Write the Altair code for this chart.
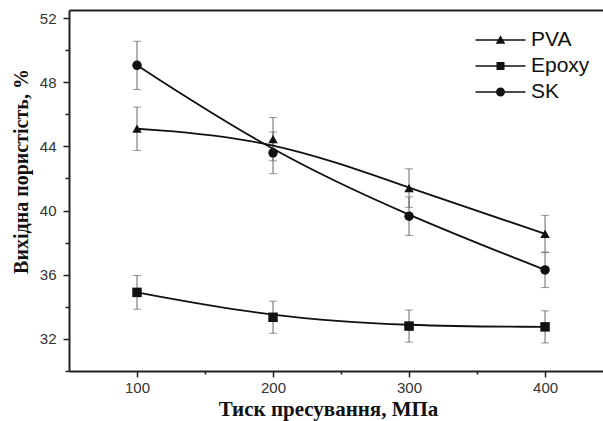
import altair as alt
import pandas as pd

pressure = [100, 200, 300, 400]
series_names = ["PVA", "Epoxy", "SK"]
pva = [45.1, 44.45, 41.4, 38.55]
pva_err = [1.35, 1.35, 1.2, 1.15]
epoxy = [34.9, 33.35, 32.8, 32.75]
epoxy_err = [1.05, 1.0, 1.0, 1.0]
sk = [49.05, 43.6, 39.65, 36.3]
sk_err = [1.5, 1.3, 1.2, 1.1]

rows = []
for name, vals, errs in [("PVA", pva, pva_err), ("Epoxy", epoxy, epoxy_err), ("SK", sk, sk_err)]:
    for p, v, e in zip(pressure, vals, errs):
        rows.append({"p": p, "v": v, "lo": v - e, "hi": v + e, "series": name, "leg": name})
df = pd.DataFrame(rows)

x_scale = alt.Scale(domain=[50, 442.6], nice=False, zero=False)
y_scale = alt.Scale(domain=[30, 52.5], nice=False, zero=False)

x_axis = alt.Axis(
    values=[100, 150, 200, 250, 300, 350, 400],
    labelExpr="datum.value % 100 == 0 ? datum.label : ''",
    tickSize={"condition": {"test": "datum.value % 100 != 0", "value": 3}, "value": 6},
    title="Тиск пресування, МПа",
    titleFont="Liberation Serif", titleFontWeight="bold", titleFontSize=21, titleColor="#111",
    titleX=259, titleY=38, titleAlign="center", titleBaseline="middle", titleAnchor="start",
    labelFont="Liberation Sans", labelFontSize=15, labelColor="#333", labelPadding=3,
    domainColor="#222", domainWidth=2, tickColor="#222", tickWidth=1.5, grid=False,
)
x_top_axis = alt.Axis(orient="top", labels=False, ticks=False, title=None, grid=False,
                      domainColor="#222", domainWidth=2)
y_axis = alt.Axis(
    values=[30, 32, 34, 36, 38, 40, 42, 44, 46, 48, 50, 52],
    labelExpr="datum.value % 4 == 0 ? datum.label : ''",
    tickSize={"condition": {"test": "datum.value % 4 != 0", "value": 4}, "value": 6},
    title="Вихідна пористість, %",
    titleFont="Liberation Serif", titleFontWeight="bold", titleFontSize=20, titleColor="#111",
    titleX=-48, titleY=161, titleAlign="center", titleBaseline="middle", titleAngle=-90, titleAnchor="start",
    labelFont="Liberation Sans", labelFontSize=15, labelColor="#333", labelPadding=7,
    domainColor="#222", domainWidth=2, tickColor="#222", tickWidth=1.5, grid=False,
)

base = alt.Chart(df)
X = alt.X("p:Q", scale=x_scale, axis=x_axis)
Y = alt.Y("v:Q", scale=y_scale, axis=y_axis)

frame_top = base.mark_point(opacity=0).encode(
    x=alt.X("p:Q", scale=x_scale, axis=x_top_axis), y=Y
)

err_rule = base.mark_rule(color="#666", strokeWidth=1).encode(
    x=X, y=alt.Y("lo:Q", scale=y_scale, axis=y_axis), y2="hi:Q"
)
cap_lo = base.mark_tick(color="#666", thickness=1, size=8, orient="horizontal").encode(
    x=X, y=alt.Y("lo:Q", scale=y_scale, axis=y_axis)
)
cap_hi = base.mark_tick(color="#666", thickness=1, size=8, orient="horizontal").encode(
    x=X, y=alt.Y("hi:Q", scale=y_scale, axis=y_axis)
)

lines = base.mark_line(interpolate="basis", color="#111", strokeWidth=1.8).encode(
    x=X, y=Y, detail="series:N"
)

points = base.mark_point(filled=True, opacity=1, color="#111", size=90).encode(
    x=X, y=Y,
    shape=alt.Shape("series:N", scale=alt.Scale(domain=series_names,
                                                range=["triangle-up", "square", "circle"]), legend=None),
)

tri = "M-5,-0.15H5V0.15H-5Z M0,-0.95L0.95,0.75H-0.95Z"
sq = "M-5,-0.15H5V0.15H-5Z M-0.8,-0.8H0.8V0.8H-0.8Z"
circ = "M-5,-0.15H5V0.15H-5Z M0.9,0A0.9,0.9,0,1,1,-0.9,0A0.9,0.9,0,1,1,0.9,0Z"

legend_layer = base.mark_point(filled=True, opacity=0, color="#111", size=100).encode(
    x=X, y=Y,
    shape=alt.Shape("leg:N", scale=alt.Scale(domain=series_names, range=[tri, sq, circ]),
                    legend=alt.Legend(
                        title=None, orient="none", legendX=401, legendY=19.5, padding=0,
                        symbolSize=100, symbolOpacity=1, symbolFillColor="#111", symbolStrokeWidth=0,
                        symbolOffset=20, labelOffset=20, rowPadding=4,
                        labelFont="Liberation Sans", labelFontSize=21, labelColor="#111",
                    )),
)

main = alt.layer(err_rule, cap_lo, cap_hi, lines, points, legend_layer).resolve_scale(
    shape="independent"
).resolve_legend(shape="independent")

chart = alt.layer(main, frame_top).resolve_axis(x="independent").properties(
    width=534, height=361,
    padding={"left": 69, "top": 10, "right": 0, "bottom": 50},
    autosize=alt.AutoSizeParams(type="none"),
    background="white",
).configure_view(stroke=None)

chart.save("out.html", embed_options={"renderer": "svg", "actions": False})
